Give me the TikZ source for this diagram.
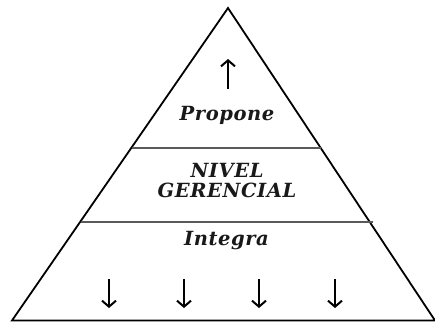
\documentclass[tikz,border=0pt]{standalone}
\usepackage{fontspec}
\newfontfamily\lblfont[LetterSpace=3]{DejaVu Serif}
\usetikzlibrary{arrows.meta}
\begin{document}
\begin{tikzpicture}[x=1pt,y=-1pt,
  lbl/.style={font=\lblfont\fontsize{19.5}{22}\selectfont\bfseries\itshape, text=black!90, inner sep=0pt, anchor=base},
  arr/.style={line width=2pt, -{Straight Barb[length=6pt,width=14pt,line width=2pt]}},
  sep/.style={line width=1.3pt, draw=black!65}]
\useasboundingbox (0,0) rectangle (435,322);
\coordinate (apex) at (228,8);
\coordinate (bl) at (12,320.5);
\coordinate (br) at (435,320.5);
\draw[line width=1.8pt, line join=miter] (apex) -- (bl) -- (br) -- cycle;
\coordinate (l1a) at (131.5,148);
\coordinate (l1b) at (321,148);
\coordinate (l2a) at (80.5,222);
\coordinate (l2b) at (373,222);
\draw[sep] (l1a) -- (l1b);
\draw[sep] (l2a) -- (l2b);
\node[lbl] (propone) at (227,120) {Propone};
\node[lbl] (nivel) at (227,177) {NIVEL};
\node[lbl] (gerencial) at (227,197) {GERENCIAL};
\node[lbl] (integra) at (226.5,245) {Integra};
\coordinate (u0) at (228,89);
\coordinate (u1) at (228,59);
\draw[arr] (u0) -- (u1);
\foreach \i/\x in {1/109,2/184,3/259,4/335}{
  \coordinate (d\i a) at (\x,279);
  \coordinate (d\i b) at (\x,308);
  \draw[arr] (d\i a) -- (d\i b);
}
\end{tikzpicture}
\end{document}
